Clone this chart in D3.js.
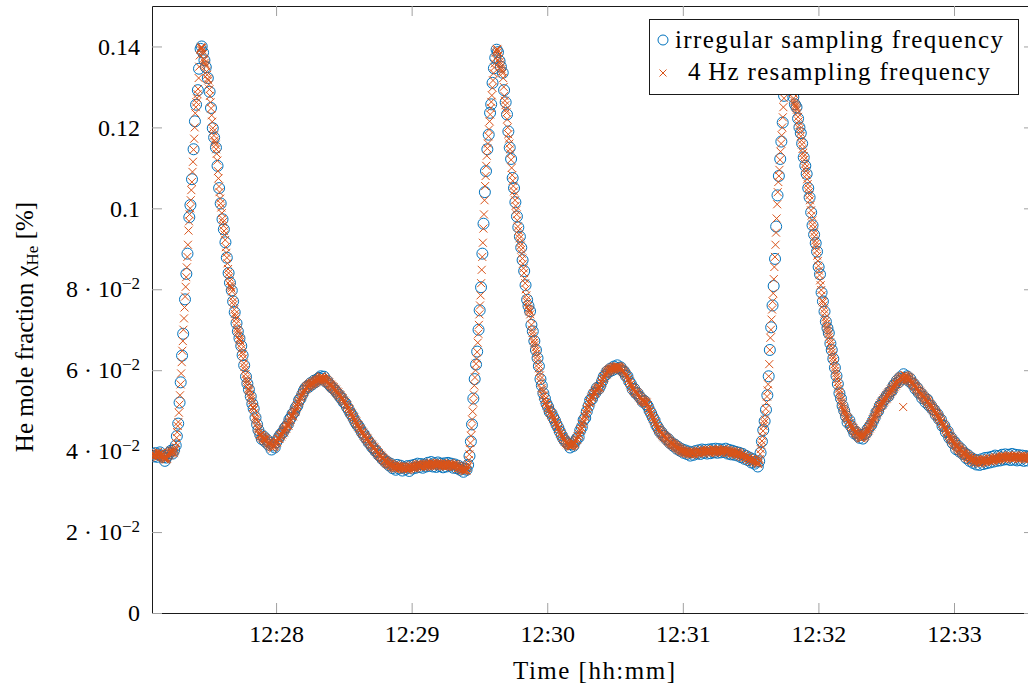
<!DOCTYPE html>
<html>
<head>
<meta charset="utf-8">
<script src="https://cdn.jsdelivr.net/npm/d3@7"></script>
<style>
  body { margin: 0; background: #fff; }
  svg { display: block; font-family: "Liberation Serif", "Times New Roman", serif; }
</style>
</head>
<body>
<div id="chart"></div>
<script>
// times are seconds after 12:27:00, values are in units of 1e-4 %
var resampleStart = 5;      // first 4 Hz sample at 12:27:05
var resampleStep = 0.25;    // 4 Hz
var resampled = [
392,388,395,391, 386,393,390,396, 389,384,392,398, 391,387,394,389,
395,390,386,392, 388,384,380,386, 382,379,385,381, 388,392,396,390,
397,401,394,399, 396,402,398,395, 401,404,410,420, 433,447,462,472,
495,515,538,565, 592,620,648,672, 700,728,755,782, 806,830,854,880,
910,945,968,985, 1000,1020,1045,1065, 1090,1115,1145,1172, 1200,1235,1250,1262,
1272,1282,1295,1322, 1350,1378,1392,1396, 1399,1396,1390,1382, 1370,1367,1360,1356,
1351,1338,1330,1320, 1316,1306,1294,1278, 1262,1247,1230,1214, 1198,1190,1180,1168,
1163,1157,1146,1135, 1118,1092,1074,1054, 1040,1024,1012,1002, 988,974,966,957,
944,935,922,904, 890,878,864,850, 840,830,820,810, 806,802,795,780, 
770,762,750,739, 733,726,716,705, 699,694,686,678, 675,671,664,653,
645,639,629,617, 608,600,590,580, 575,571,563,555, 552,549,542,535,
530,525,517,509, 508,504,495,485, 480,476,468,460, 456,453,446,440,
440,436,441,433, 437,430,435,428, 432,426,430,424, 421,427,418,423,
415,420,412,417, 409,414,406,412, 410,416,412,419, 421,426,422,430,
431,434,430,438, 440,436,443,441, 447,451,446,453, 456,459,455,462,
464,468,463,471, 474,480,477,485, 487,490,486,494, 497,501,498,505,
508,514,511,518, 521,526,524,531, 533,538,536,541, 544,550,547,553,
553,558,555,560, 559,563,560,565, 562,567,564,569, 566,570,567,572,
569,574,570,576, 572,577,574,579, 576,582,578,584, 579,585,581,578,
582,576,580,574, 577,571,575,569, 572,566,570,563, 566,560,564,557,
561,555,558,551, 554,548,552,545, 547,541,545,538, 540,535,538,531,
533,527,531,524, 525,520,522,515, 516,510,513,506, 506,500,503,496,
496,490,493,486, 486,480,483,476, 476,470,473,466, 467,461,464,457,
457,452,455,448, 448,443,446,439, 440,435,438,431, 433,428,431,424,
425,420,423,416, 418,413,416,409, 411,406,409,402, 404,399,402,395,
397,392,395,388, 391,386,389,382, 385,380,383,376, 379,374,377,371,
374,369,372,366, 370,366,369,363, 368,362,366,359, 364,358,363,356,
361,367,359,364, 358,363,356,361, 359,364,357,362, 356,361,354,360,
357,362,355,360, 358,353,360,355, 361,356,363,358, 360,365,358,363,
362,357,364,359, 366,361,368,363, 364,369,362,367, 365,360,367,362,
363,368,361,366, 366,361,369,364, 368,363,370,365, 367,372,365,370,
368,363,371,366, 369,364,367,362, 366,371,364,369, 367,362,369,364,
365,370,363,368, 366,361,368,363, 364,369,362,367, 368,363,370,365,
366,371,364,368, 365,360,367,362, 363,368,361,366, 362,357,364,359,
358,363,355,360, 356,352,358,353, 354,350,356,352, 355,352,358,362,
368,378,392,405, 420,438,457,478, 498,520,540,562, 582,600,616,628,
645,668,690,712, 738,760,785,815, 848,880,915,950, 985,1020,1055,1080,
1105,1130,1148,1160, 1178,1195,1215,1232, 1248,1263,1279,1298, 1316,1334,1348,1358,
1370,1385,1391,1394, 1392,1386,1378,1370, 1362,1356,1350,1344, 1339,1334,1322,1300,
1278,1266,1255,1244, 1237,1220,1200,1183, 1172,1160,1146,1136, 1120,1100,1082,1068,
1055,1042,1032,1020, 1006,995,985,970, 955,945,935,926, 916,908,898,888,
876,863,852,840, 826,815,800,785, 775,767,759,752, 748,745,738,728,
712,700,692,684, 674,668,663,656, 648,641,634,625, 615,605,596,587,
578,569,556,552, 547,538,537,528, 528,520,519,513, 514,507,506,501,
502,495,497,490, 492,485,487,479, 480,474,475,468, 469,462,464,456,
457,450,451,444, 445,438,440,433, 434,428,430,424, 426,420,423,417,
420,415,418,413, 416,411,415,412, 417,413,419,416, 422,418,426,425,
431,428,437,436, 443,441,451,451, 459,457,467,468, 476,474,485,485,
494,492,503,503, 511,509,519,519, 526,523,532,531, 538,534,543,541,
547,543,551,549, 555,551,558,555, 560,556,565,564, 572,569,578,577,
584,581,589,588, 594,590,597,595, 600,597,602,599, 604,601,605,602,
607,603,608,604, 609,605,609,606, 610,606,609,605, 608,603,606,601,
603,598,600,595, 597,591,593,587, 589,583,584,577, 578,571,572,565,
566,559,560,554, 556,550,552,546, 548,543,546,541, 543,537,539,533,
535,529,531,525, 528,523,526,521, 524,519,522,517, 520,513,514,506,
506,499,500,493, 494,487,488,481, 482,475,476,469, 470,463,464,457,
458,452,454,448, 450,444,446,440, 443,437,440,434, 437,432,434,429,
432,426,429,423, 426,421,423,418, 421,416,419,414, 417,412,415,410,
413,408,411,406, 409,404,407,402, 405,400,403,399, 402,397,401,396,
400,395,399,394, 398,394,397,393, 398,392,396,390, 395,400,393,398,
396,391,399,394, 397,402,395,400, 398,393,401,396, 399,404,397,402,
400,395,403,398, 401,396,404,399, 398,403,396,401, 399,394,402,397,
400,405,398,403, 401,396,404,399, 402,397,405,400, 399,404,397,402,
400,395,403,398, 401,406,399,404, 400,395,402,397, 398,403,396,401,
397,392,400,395, 396,401,394,399, 395,390,398,393, 393,398,391,396,
392,387,394,389, 390,385,392,387, 388,383,390,385, 385,380,387,382,
382,377,384,379, 379,374,381,376, 377,372,379,374, 375,370,377,372,
373,368,371,378, 380,393,405,415, 425,437,450,462, 470,478,490,505,
520,535,550,565, 585,615,650,680, 700,725,750,770, 790,825,855,880,
910,940,975,1010, 1040,1065,1080,1095, 1120,1140,1160,1180, 1200,1225,1250,1272,
1295,1320,1340,1362, 1378,1390,1396,1394, 1386,1375,1362,1348, 1332,1315,1298,1285,
1272,1266,1260,1255, 1252,1248,1244,1236, 1226,1215,1205,1196, 1188,1178,1168,1158,
1147,1137,1129,1120, 1110,1100,1092,1083, 1072,1060,1050,1040, 1032,1020,1008,995,
982,970,960,950, 940,930,920,912, 905,895,883,870, 858,846,835,822,
810,798,785,772, 768,760,750,740, 730,722,715,708, 702,696,690,683,
676,668,660,652, 644,637,630,622, 614,606,598,592, 585,578,570,562,
554,546,540,534, 527,521,516,511, 506,502,498,495, 491,487,484,481,
480,473,474,468, 469,462,464,458, 460,453,456,449, 452,445,449,442,
446,439,443,436, 441,433,439,432, 438,431,439,433, 441,435,444,438,
448,442,452,447, 457,451,462,456, 467,461,472,467, 478,472,484,479,
490,484,496,491, 502,496,508,502, 513,507,518,512, 522,515,526,520,
530,523,534,528, 538,530,542,535, 545,538,548,542, 552,546,556,550,
560,554,564,558, 568,562,572,566, 576,569,579,572, 582,575,584,577,
586,579,509,580, 588,580,587,579, 586,578,584,576, 582,574,580,572,
574,568,571,565, 568,561,564,558, 561,554,557,551, 554,547,550,544,
547,540,543,537, 540,533,537,530, 533,527,530,524, 527,520,524,517,
519,513,516,509, 512,505,508,501, 504,497,500,493, 496,489,492,485,
488,481,484,477, 479,472,475,467, 469,462,465,457, 459,452,455,447,
449,442,445,437, 439,432,436,428, 431,424,428,420, 423,416,420,412,
416,409,413,406, 410,403,407,400, 404,397,401,394, 399,392,396,389,
394,387,391,384, 390,383,387,380, 386,379,383,376, 383,376,380,373,
381,374,378,371, 380,373,377,370, 379,372,376,369, 376,371,378,373,
379,374,381,376, 377,372,380,375, 378,383,376,381, 379,374,382,377,
380,375,383,378, 381,386,379,384, 382,377,385,380, 383,378,386,381,
384,389,382,387, 385,380,388,383, 386,381,389,384, 385,390,383,388,
386,381,389,384, 385,380,388,383, 386,391,384,389, 385,380,387,382,
386,381,388,383, 384,389,382,387, 385,380,387,382, 383,388,381,386,
384,379,386,381, 382,387,380,385, 383,378,385,380
];

// irregular samples: [seconds after 12:27:00, value in 1e-4 %]
var irregular = [
[5.2,393],[5.9,387],[6.5,395],[7.3,386],[8.0,392],[8.6,397],[9.5,389],[10.1,385],[10.8,376],[11.4,384],
[12.0,389],[12.9,396],[13.5,401],[14.2,394],[14.9,403],[15.6,414],[16.1,437],[16.7,468],[17.3,520],[17.8,570],
[18.4,636],[18.9,690],[19.7,775],[20.3,838],[20.8,888],[21.6,978],[22.1,1008],[22.8,1072],[23.5,1146],[24.1,1215],
[24.6,1256],[25.4,1292],[25.9,1345],[26.6,1394],[27.1,1400],[27.7,1385],[28.3,1366],[28.9,1349],[29.8,1322],[30.6,1288],
[31.2,1248],[32.0,1198],[32.6,1175],[33.4,1150],[34.1,1105],[34.8,1050],[35.5,1012],[36.3,973],[36.9,948],[37.6,916],
[38.2,878],[39.0,840],[39.6,816],[40.4,797],[41.0,770],[41.7,743],[42.5,716],[43.1,696],[43.8,679],[44.6,660],
[45.2,637],[45.9,612],[46.7,584],[47.3,567],[48.0,552],[48.8,535],[49.5,517],[50.1,505],[50.9,483],[51.6,466],
[52.2,452],[53.0,441],[53.7,430],[54.5,436],[55.1,424],[55.8,429],[56.6,416],[57.2,421],[58.0,404],[58.7,414],
[59.4,409],[60.1,422],[60.9,430],[61.5,437],[62.3,443],[63.0,446],[63.8,456],[64.4,460],[65.2,466],[65.9,478],
[66.5,482],[67.3,492],[68.0,496],[68.7,507],[69.4,512],[70.2,526],[70.8,530],[71.6,540],[72.3,549],[73.0,556],
[73.9,561],[74.5,559],[75.3,568],[76.0,565],[76.8,574],[77.5,571],[78.3,578],[79.0,581],[79.8,585],[80.5,579],
[81.2,584],[81.9,572],[82.7,573],[83.4,566],[84.0,562],[84.8,557],[85.5,554],[86.3,549],[87.0,544],[87.8,539],
[88.5,533],[89.1,529],[89.9,521],[90.6,519],[91.4,509],[92.1,503],[92.9,494],[93.6,489],[94.3,481],[95.1,472],
[95.8,466],[96.6,461],[97.3,454],[98.0,446],[98.8,442],[99.5,434],[100.3,429],[101.0,421],[101.8,418],[102.5,410],
[103.2,407],[104.0,400],[104.7,398],[105.5,390],[106.2,388],[107.0,381],[107.7,379],[108.5,372],[109.2,373],[110.0,365],
[110.7,369],[111.5,358],[112.3,362],[113.0,354],[113.6,366],[114.4,357],[115.1,364],[115.9,352],[116.6,360],[117.4,356],
[118.1,363],[118.9,351],[119.6,364],[120.4,357],[121.1,366],[121.9,359],[122.6,369],[123.4,361],[124.1,368],[124.9,359],
[125.6,367],[126.4,362],[127.1,371],[127.9,364],[128.6,373],[129.4,362],[130.1,370],[130.9,361],[131.6,372],[132.4,363],
[133.1,369],[133.9,360],[134.6,370],[135.4,362],[136.1,371],[136.9,364],[137.6,369],[138.4,359],[139.1,367],[139.9,358],
[140.6,364],[141.4,354],[142.1,359],[142.9,349],[143.6,357],[144.3,354],[145.0,366],[145.6,388],[146.2,424],[146.7,466],
[147.3,530],[147.9,578],[148.5,614],[149.0,646],[149.6,700],[150.1,748],[150.7,805],[151.3,888],[151.8,962],[152.4,1040],
[152.9,1092],[153.5,1146],[154.1,1182],[154.7,1236],[155.2,1257],[155.8,1310],[156.4,1346],[157.0,1372],[157.6,1392],[158.2,1386],
[158.9,1364],[159.5,1350],[160.3,1335],[160.9,1292],[161.6,1262],[162.2,1232],[162.8,1190],[163.4,1150],[164.0,1122],[164.7,1075],
[165.3,1050],[165.9,1015],[166.6,980],[167.2,953],[167.9,930],[168.5,903],[169.1,872],[169.8,845],[170.4,810],[171.1,774],
[171.7,759],[172.4,746],[173.0,712],[173.6,696],[174.3,672],[175.0,650],[175.7,630],[176.3,610],[177.0,578],[177.6,562],
[178.3,543],[179.0,530],[179.7,517],[180.4,509],[181.1,497],[181.9,493],[182.6,484],[183.4,476],[184.1,466],[184.9,458],
[185.6,448],[186.4,439],[187.1,431],[187.9,425],[188.6,421],[189.4,417],[190.1,409],[190.9,417],[191.6,413],[192.4,424],
[193.1,431],[193.9,434],[194.6,451],[195.3,459],[196.1,477],[196.8,482],[197.5,498],[198.3,511],[199.0,526],[199.8,529],
[200.5,542],[201.3,544],[202.0,556],[202.8,554],[203.5,562],[204.3,573],[205.0,584],[205.8,588],[206.5,597],[207.3,596],
[208.0,604],[208.8,600],[209.5,609],[210.3,604],[211.0,612],[211.8,605],[212.5,607],[213.3,598],[214.0,597],[214.8,586],
[215.5,585],[216.3,572],[217.0,566],[217.8,553],[218.5,554],[219.3,543],[220.0,543],[220.8,534],[221.5,531],[222.3,522],
[223.0,524],[223.8,516],[224.5,511],[225.3,500],[226.0,493],[226.8,483],[227.5,476],[228.3,464],[229.0,458],[229.8,448],
[230.5,447],[231.3,438],[232.0,437],[232.8,429],[233.5,430],[234.3,420],[235.0,421],[235.8,413],[236.5,416],[237.3,406],
[238.0,410],[238.8,401],[239.5,405],[240.3,396],[241.0,402],[241.8,393],[242.5,399],[243.3,389],[244.0,397],[244.8,391],
[245.5,400],[246.3,394],[247.0,402],[247.8,393],[248.5,404],[249.3,396],[250.0,403],[250.8,394],[251.5,404],[252.3,395],
[253.0,405],[253.8,397],[254.5,406],[255.3,396],[256.0,405],[256.8,397],[257.5,404],[258.3,398],[259.0,406],[259.8,394],
[260.5,403],[261.3,392],[262.0,401],[262.8,391],[263.5,398],[264.3,389],[265.0,396],[265.8,385],[266.5,393],[267.3,381],
[268.0,388],[268.8,378],[269.5,384],[270.3,372],[271.0,380],[271.8,369],[272.5,374],[273.2,362],[273.8,375],[274.4,396],
[275.0,424],[275.6,452],[276.2,474],[276.8,502],[277.4,538],[278.0,585],[278.5,650],[279.1,706],[279.7,760],[280.2,808],
[280.8,875],[281.3,955],[281.9,1032],[282.5,1080],[283.1,1122],[283.6,1165],[284.2,1212],[284.8,1278],[285.4,1322],[285.9,1365],
[286.5,1392],[287.1,1385],[287.7,1350],[288.3,1308],[288.9,1275],[289.6,1257],[290.3,1250],[291.0,1222],[291.6,1200],[292.2,1186],
[292.8,1160],[293.5,1126],[294.2,1105],[294.8,1085],[295.5,1050],[296.1,1027],[296.8,990],[297.4,958],[298.1,935],[298.8,914],
[299.4,893],[300.1,855],[300.7,837],[301.4,792],[302.0,770],[302.7,745],[303.3,720],[304.0,704],[304.6,692],[305.3,666],
[305.9,650],[306.6,628],[307.3,606],[308.0,586],[308.6,566],[309.3,543],[310.0,530],[310.7,512],[311.4,500],[312.2,486],
[312.9,471],[313.7,476],[314.4,462],[315.2,454],[315.9,444],[316.7,447],[317.4,438],[318.2,433],[318.9,440],[319.7,431],
[320.4,442],[321.2,445],[321.9,455],[322.7,461],[323.4,465],[324.2,475],[324.9,483],[325.7,496],[326.4,499],[327.2,512],
[327.9,515],[328.7,525],[329.4,529],[330.2,537],[330.9,536],[331.7,547],[332.4,549],[333.2,561],[333.9,566],[334.7,574],
[335.4,570],[336.2,582],[336.9,579],[337.7,590],[338.4,581],[339.2,585],[339.9,574],[340.7,578],[341.4,567],[342.2,566],
[342.9,554],[343.7,556],[344.4,544],[345.2,544],[345.9,531],[346.7,534],[347.4,521],[348.2,527],[348.9,513],[349.7,513],
[350.4,504],[351.2,502],[351.9,490],[352.7,491],[353.4,479],[354.2,478],[354.9,462],[355.7,463],[356.4,447],[357.2,449],
[357.9,433],[358.7,433],[359.4,420],[360.2,423],[360.9,405],[361.7,413],[362.4,399],[363.2,405],[363.9,393],[364.7,395],
[365.4,383],[366.2,390],[366.9,376],[367.7,383],[368.4,371],[369.2,379],[369.9,367],[370.7,377],[371.4,366],[372.2,380],
[372.9,368],[373.7,383],[374.4,370],[375.2,384],[375.9,372],[376.7,386],[377.4,374],[378.2,389],[378.9,376],[379.7,388],
[380.4,377],[381.2,391],[381.9,379],[382.7,392],[383.4,380],[384.2,391],[384.9,378],[385.7,393],[386.4,379],[387.2,391],
[387.9,377],[388.7,390],[389.4,378],[390.2,389],[390.9,376],[391.7,388],[392.4,377],[393.2,386],[394.0,381],[394.8,387]
];

var xDomain = ["12:27:05.1", "12:33:35.4"];
var xTickLabels = ["12:28", "12:29", "12:30", "12:31", "12:32", "12:33"];
var yTicks = [0, 0.02, 0.04, 0.06, 0.08, 0.1, 0.12, 0.14];
var yTickLabels = ["0", "2 · 10^\u22122", "4 · 10^\u22122", "6 · 10^\u22122", "8 · 10^\u22122", "0.1", "0.12", "0.14"];
var legendLabels = ["irregular sampling frequency", "4\u2009Hz resampling frequency"];

var blue = "#0072BD";
var orange = "#D95319";

var width = 1028, height = 688;
var margin = {left: 152, top: 6, right: 1034, bottom: 613};

var svg = d3.select("#chart").append("svg")
  .attr("width", width).attr("height", height);

var t0 = d3.timeParse("%H:%M:%S")("12:27:00");
function toDate(sec) { return new Date(t0.getTime() + sec * 1000); }
function clockToDate(s) {
  var p = s.split(":");
  return toDate((+p[0] - 12) * 3600 + (+p[1] - 27) * 60 + (p[2] ? +p[2] : 0));
}

var x = d3.scaleTime()
  .domain(xDomain.map(clockToDate))
  .range([margin.left, margin.right]);
var y = d3.scaleLinear()
  .domain([0, 0.15])
  .range([margin.bottom, margin.top]);

var xTickDates = xTickLabels.map(clockToDate);

// axes (ticks point inwards, mirrored on top/right)
var gx = svg.append("g").attr("transform", "translate(0," + margin.bottom + ")")
  .call(d3.axisBottom(x).tickValues(xTickDates).tickSize(-10).tickSizeOuter(0).tickPadding(12)
    .tickFormat(function(d, i) { return xTickLabels[i]; }));
var gxTop = svg.append("g").attr("transform", "translate(0," + margin.top + ")")
  .call(d3.axisTop(x).tickValues(xTickDates).tickSize(-10).tickSizeOuter(0).tickFormat(""));
var gy = svg.append("g").attr("transform", "translate(" + margin.left + ",0)")
  .call(d3.axisLeft(y).tickValues(yTicks).tickSize(-10).tickSizeOuter(0).tickPadding(12)
    .tickFormat(function(d, i) { return yTickLabels[i]; }));
var gyRight = svg.append("g").attr("transform", "translate(" + margin.right + ",0)")
  .call(d3.axisRight(y).tickValues(yTicks).tickSize(-10).tickSizeOuter(0).tickFormat(""));

svg.selectAll(".tick line").attr("stroke", "#a0a0a0").attr("stroke-width", 1);
svg.selectAll(".domain").attr("stroke", "#1a1a1a").attr("stroke-width", 1);
svg.selectAll(".tick text")
  .attr("font-family", "Liberation Serif, serif")
  .attr("font-size", 24)
  .attr("fill", "#000");

// superscript exponents in y tick labels
gy.selectAll(".tick text").each(function() {
  var el = d3.select(this);
  var s = el.text();
  if (s.indexOf("^") < 0) return;
  var parts = s.split("^");
  el.text("");
  el.append("tspan").text(parts[0]);
  el.append("tspan").attr("font-size", 17).attr("dy", "-0.5em").text(parts[1]);
});

// data
svg.append("clipPath").attr("id", "plot-clip")
  .append("rect")
  .attr("x", margin.left).attr("y", margin.top)
  .attr("width", margin.right - margin.left).attr("height", margin.bottom - margin.top);

var plot = svg.append("g").attr("clip-path", "url(#plot-clip)");

plot.selectAll(".irr")
  .data(irregular)
  .enter().append("circle")
  .attr("class", "irr")
  .attr("cx", function(d) { return x(toDate(d[0])); })
  .attr("cy", function(d) { return y(d[1] * 1e-4); })
  .attr("r", 5.5)
  .attr("fill", "none")
  .attr("stroke", blue)
  .attr("stroke-width", 1);

var crossPath = "M-4,-4L4,4M-4,4L4,-4";
plot.selectAll(".res")
  .data(resampled)
  .enter().append("path")
  .attr("class", "res")
  .attr("transform", function(d, i) {
    return "translate(" + x(toDate(resampleStart + i * resampleStep)) + "," + y(d * 1e-4) + ")";
  })
  .attr("d", crossPath)
  .attr("fill", "none")
  .attr("stroke", orange)
  .attr("stroke-width", 1);

// axis titles
svg.append("text")
  .attr("x", 594).attr("y", 679)
  .attr("text-anchor", "middle")
  .attr("font-size", 25)
  .attr("textLength", 162)
  .text("Time [hh:mm]");

var yLabel = svg.append("text")
  .attr("transform", "translate(33,327) rotate(-90)")
  .attr("text-anchor", "middle")
  .attr("font-size", 25);
yLabel.append("tspan").text("He mole fraction \u03C7");
yLabel.append("tspan").attr("font-size", 17).attr("dy", 5).text("He");
yLabel.append("tspan").attr("dy", -5).text(" [%]");

// legend
var legend = svg.append("g");
legend.append("rect")
  .attr("x", 649.5).attr("y", 19.5)
  .attr("width", 369).attr("height", 75)
  .attr("fill", "#fff")
  .attr("stroke", "#1a1a1a")
  .attr("stroke-width", 1);
legend.append("circle")
  .attr("cx", 663).attr("cy", 40).attr("r", 5)
  .attr("fill", "none").attr("stroke", blue).attr("stroke-width", 1);
legend.append("path")
  .attr("transform", "translate(663,73)")
  .attr("d", "M-3.5,-3.5L3.5,3.5M-3.5,3.5L3.5,-3.5")
  .attr("fill", "none").attr("stroke", orange).attr("stroke-width", 1);
legend.selectAll(".leg-text")
  .data(legendLabels)
  .enter().append("text")
  .attr("class", "leg-text")
  .attr("x", 839)
  .attr("y", function(d, i) { return 48 + i * 32; })
  .attr("text-anchor", "middle")
  .attr("font-size", 25)
  .attr("textLength", function(d, i) { return i === 0 ? 328 : 302; })
  .text(function(d) { return d; });
</script>
</body>
</html>
